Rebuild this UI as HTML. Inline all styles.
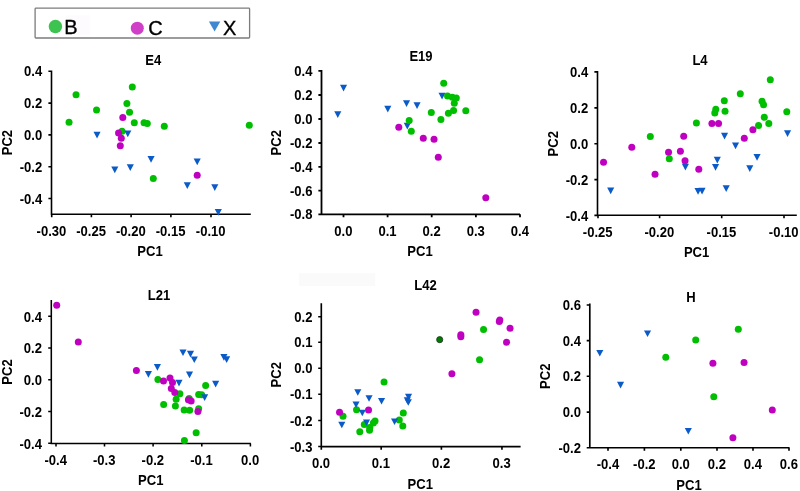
<!DOCTYPE html>
<html><head><meta charset="utf-8"><title>PCA scatter</title>
<style>
html,body{margin:0;padding:0;background:#fff}
svg{display:block}
text{font-family:"Liberation Sans",Arial,sans-serif;fill:#000}
.b{font-weight:bold;font-size:13.33px}
.lg{font-size:20px;stroke:#000;stroke-width:0.35px}
</style></head><body>
<svg width="800" height="491" viewBox="0 0 800 491">
<rect width="800" height="491" fill="#fff"/>
<rect x="299" y="273.3" width="76.2" height="12.6" fill="#fafafa"/>
<rect x="35.1" y="8.1" width="214.5" height="29.9" rx="0.8" fill="#fff" stroke="#7c7c7c" stroke-width="1.3"/>
<rect x="66" y="15.6" width="24" height="19" fill="#fdfbfd"/>
<circle cx="55.4" cy="26.5" r="6.7" fill="#3cc350"/>
<text class="lg" x="64.2" y="33.7">B</text>
<circle cx="137.3" cy="28.2" r="6.5" fill="#d03fc8"/>
<text class="lg" x="148.2" y="34.9">C</text>
<path d="M208.9 21.6h11.4l-5.7 10z" fill="#3f87d0"/>
<text class="lg" x="223" y="34.9">X</text>

<g id="E4">
<path d="M51.5 70.5V214.3H250.8M51.5 71.3h-3.1M51.5 103.1h-3.1M51.5 134.9h-3.1M51.5 166.7h-3.1M51.5 198.5h-3.1M51.7 214.3v3.0M91.4 214.3v3.0M131.1 214.3v3.0M170.9 214.3v3.0M211.0 214.3v3.0" fill="none" stroke="#000" stroke-width="1.6"/>
<circle cx="69.05" cy="122.3" r="3.5" fill="#00be00"/>
<circle cx="96.55" cy="110.0" r="3.5" fill="#00be00"/>
<circle cx="126.9" cy="103.4" r="3.5" fill="#00be00"/>
<circle cx="129.55" cy="112.2" r="3.5" fill="#00be00"/>
<circle cx="134.3" cy="122.8" r="3.5" fill="#00be00"/>
<circle cx="144.05" cy="122.8" r="3.5" fill="#00be00"/>
<circle cx="147.3" cy="123.55" r="3.5" fill="#00be00"/>
<circle cx="164.3" cy="126.3" r="3.5" fill="#00be00"/>
<circle cx="122.05" cy="131.3" r="3.5" fill="#00be00"/>
<circle cx="153.3" cy="178.55" r="3.5" fill="#00be00"/>
<circle cx="76.05" cy="94.8" r="3.5" fill="#00be00"/>
<circle cx="132.3" cy="87.05" r="3.5" fill="#00be00"/>
<circle cx="249.3" cy="125.3" r="3.5" fill="#00be00"/>
<path d="M93.50 131.80h7.1l-3.55 6.7z" fill="#0a5ac8"/>
<path d="M124.25 130.55h7.1l-3.55 6.7z" fill="#0a5ac8"/>
<path d="M147.50 156.05h7.1l-3.55 6.7z" fill="#0a5ac8"/>
<path d="M111.25 166.55h7.1l-3.55 6.7z" fill="#0a5ac8"/>
<path d="M126.75 164.30h7.1l-3.55 6.7z" fill="#0a5ac8"/>
<path d="M183.75 182.30h7.1l-3.55 6.7z" fill="#0a5ac8"/>
<path d="M193.65 158.55h7.1l-3.55 6.7z" fill="#0a5ac8"/>
<path d="M211.25 184.30h7.1l-3.55 6.7z" fill="#0a5ac8"/>
<path d="M214.75 209.05h7.1l-3.55 6.7z" fill="#0a5ac8"/>
<circle cx="122.8" cy="117.55" r="3.5" fill="#c000c0"/>
<circle cx="118.55" cy="133.05" r="3.5" fill="#c000c0"/>
<circle cx="121.3" cy="138.3" r="3.5" fill="#c000c0"/>
<circle cx="120.3" cy="145.8" r="3.5" fill="#c000c0"/>
<circle cx="197.2" cy="175.2" r="3.5" fill="#c000c0"/>
<text class="b" text-anchor="end" transform="translate(42.20 76.40) scale(0.98 1.07)">0.4</text>
<text class="b" text-anchor="end" transform="translate(42.20 108.20) scale(0.98 1.07)">0.2</text>
<text class="b" text-anchor="end" transform="translate(42.20 140.00) scale(0.98 1.07)">0.0</text>
<text class="b" text-anchor="end" transform="translate(42.20 171.80) scale(0.98 1.07)">-0.2</text>
<text class="b" text-anchor="end" transform="translate(42.20 203.60) scale(0.98 1.07)">-0.4</text>
<text class="b" text-anchor="middle" transform="translate(51.40 235.60) scale(0.98 1.07)">-0.30</text>
<text class="b" text-anchor="middle" transform="translate(91.10 235.60) scale(0.98 1.07)">-0.25</text>
<text class="b" text-anchor="middle" transform="translate(130.80 235.60) scale(0.98 1.07)">-0.20</text>
<text class="b" text-anchor="middle" transform="translate(170.60 235.60) scale(0.98 1.07)">-0.15</text>
<text class="b" text-anchor="middle" transform="translate(210.70 235.60) scale(0.98 1.07)">-0.10</text>
<text class="b" text-anchor="middle" transform="translate(153.20 64.70) scale(0.98 1.07)">E4</text>
<text class="b" text-anchor="middle" transform="translate(11.65 142.60) rotate(-90) scale(0.98 1.07)">PC2</text>
<text class="b" text-anchor="middle" transform="translate(150.00 255.80) scale(0.98 1.07)">PC1</text>
</g>
<g id="E19">
<path d="M321.5 70.1V214.3H520.0M321.5 70.9h-3.1M321.5 95.0h-3.1M321.5 119.0h-3.1M321.5 143.0h-3.1M321.5 166.9h-3.1M321.5 190.7h-3.1M321.5 214.3h-3.1M343.5 214.3v3.0M387.6 214.3v3.0M431.7 214.3v3.0M475.9 214.3v3.0M520.0 214.3v3.0" fill="none" stroke="#000" stroke-width="1.8"/>
<path d="M438.50 92.80h7.1l-3.55 6.7z" fill="#0a5ac8"/>
<path d="M403.75 122.80h7.1l-3.55 6.7z" fill="#0a5ac8"/>
<circle cx="443.7" cy="83.2" r="3.5" fill="#00be00"/>
<circle cx="447.55" cy="96.05" r="3.5" fill="#00be00"/>
<circle cx="452.3" cy="97.3" r="3.5" fill="#00be00"/>
<circle cx="456.3" cy="98.0" r="3.5" fill="#00be00"/>
<circle cx="454.3" cy="103.3" r="3.5" fill="#00be00"/>
<circle cx="453.55" cy="110.55" r="3.5" fill="#00be00"/>
<circle cx="448.4" cy="113.3" r="3.5" fill="#00be00"/>
<circle cx="465.8" cy="110.8" r="3.5" fill="#00be00"/>
<circle cx="431.3" cy="112.55" r="3.5" fill="#00be00"/>
<circle cx="440.9" cy="119.55" r="3.5" fill="#00be00"/>
<circle cx="409.2" cy="120.55" r="3.5" fill="#00be00"/>
<circle cx="411.3" cy="131.3" r="3.5" fill="#00be00"/>
<path d="M340.00 84.80h7.1l-3.55 6.7z" fill="#0a5ac8"/>
<path d="M334.25 111.30h7.1l-3.55 6.7z" fill="#0a5ac8"/>
<path d="M384.25 105.80h7.1l-3.55 6.7z" fill="#0a5ac8"/>
<path d="M403.00 100.30h7.1l-3.55 6.7z" fill="#0a5ac8"/>
<path d="M413.50 102.30h7.1l-3.55 6.7z" fill="#0a5ac8"/>
<circle cx="398.8" cy="127.3" r="3.5" fill="#c000c0"/>
<circle cx="423.3" cy="138.3" r="3.5" fill="#c000c0"/>
<circle cx="434.05" cy="139.3" r="3.5" fill="#c000c0"/>
<circle cx="438.3" cy="157.3" r="3.5" fill="#c000c0"/>
<circle cx="485.8" cy="197.8" r="3.5" fill="#c000c0"/>
<text class="b" text-anchor="end" transform="translate(312.50 76.00) scale(0.98 1.07)">0.4</text>
<text class="b" text-anchor="end" transform="translate(312.50 100.10) scale(0.98 1.07)">0.2</text>
<text class="b" text-anchor="end" transform="translate(312.50 124.10) scale(0.98 1.07)">0.0</text>
<text class="b" text-anchor="end" transform="translate(312.50 148.10) scale(0.98 1.07)">-0.2</text>
<text class="b" text-anchor="end" transform="translate(312.50 172.00) scale(0.98 1.07)">-0.4</text>
<text class="b" text-anchor="end" transform="translate(312.50 195.80) scale(0.98 1.07)">-0.6</text>
<text class="b" text-anchor="end" transform="translate(312.50 219.40) scale(0.98 1.07)">-0.8</text>
<text class="b" text-anchor="middle" transform="translate(343.40 235.60) scale(0.98 1.07)">0.0</text>
<text class="b" text-anchor="middle" transform="translate(387.50 235.60) scale(0.98 1.07)">0.1</text>
<text class="b" text-anchor="middle" transform="translate(431.60 235.60) scale(0.98 1.07)">0.2</text>
<text class="b" text-anchor="middle" transform="translate(475.80 235.60) scale(0.98 1.07)">0.3</text>
<text class="b" text-anchor="middle" transform="translate(519.90 235.60) scale(0.98 1.07)">0.4</text>
<text class="b" text-anchor="middle" transform="translate(421.00 61.20) scale(0.98 1.07)">E19</text>
<text class="b" text-anchor="middle" transform="translate(280.95 142.80) rotate(-90) scale(0.98 1.07)">PC2</text>
<text class="b" text-anchor="middle" transform="translate(420.00 255.80) scale(0.98 1.07)">PC1</text>
</g>
<g id="L4">
<path d="M597.5 71.10000000000001V215.20000000000002H796.8M597.5 71.9h-3.1M597.5 107.9h-3.1M597.5 143.8h-3.1M597.5 179.6h-3.1M597.5 215.4h-3.1M598 215.20000000000002v3.0M659.6 215.20000000000002v3.0M721.7 215.20000000000002v3.0M784.0 215.20000000000002v3.0" fill="none" stroke="#000" stroke-width="1.6"/>
<circle cx="770.3" cy="79.75" r="3.5" fill="#00be00"/>
<circle cx="740.3" cy="93.75" r="3.5" fill="#00be00"/>
<circle cx="724.3" cy="100.65" r="3.5" fill="#00be00"/>
<circle cx="715.8" cy="109.25" r="3.5" fill="#00be00"/>
<circle cx="714.8" cy="113.0" r="3.5" fill="#00be00"/>
<circle cx="725.05" cy="111.25" r="3.5" fill="#00be00"/>
<circle cx="762.05" cy="101.25" r="3.5" fill="#00be00"/>
<circle cx="763.55" cy="104.75" r="3.5" fill="#00be00"/>
<circle cx="786.8" cy="111.75" r="3.5" fill="#00be00"/>
<circle cx="764.3" cy="117.25" r="3.5" fill="#00be00"/>
<circle cx="768.8" cy="123.5" r="3.5" fill="#00be00"/>
<circle cx="758.55" cy="125.5" r="3.5" fill="#00be00"/>
<circle cx="696.4" cy="123.0" r="3.5" fill="#00be00"/>
<circle cx="650.3" cy="136.5" r="3.5" fill="#00be00"/>
<circle cx="669.3" cy="158.75" r="3.5" fill="#00be00"/>
<path d="M721.00 132.75h7.1l-3.55 6.7z" fill="#0a5ac8"/>
<path d="M732.00 142.55h7.1l-3.55 6.7z" fill="#0a5ac8"/>
<path d="M784.00 130.25h7.1l-3.55 6.7z" fill="#0a5ac8"/>
<path d="M607.15 187.50h7.1l-3.55 6.7z" fill="#0a5ac8"/>
<path d="M681.85 163.75h7.1l-3.55 6.7z" fill="#0a5ac8"/>
<path d="M694.50 188.00h7.1l-3.55 6.7z" fill="#0a5ac8"/>
<path d="M698.50 187.75h7.1l-3.55 6.7z" fill="#0a5ac8"/>
<path d="M712.00 164.00h7.1l-3.55 6.7z" fill="#0a5ac8"/>
<path d="M713.75 156.75h7.1l-3.55 6.7z" fill="#0a5ac8"/>
<path d="M722.65 185.25h7.1l-3.55 6.7z" fill="#0a5ac8"/>
<path d="M746.25 165.25h7.1l-3.55 6.7z" fill="#0a5ac8"/>
<path d="M753.50 154.00h7.1l-3.55 6.7z" fill="#0a5ac8"/>
<circle cx="711.9" cy="123.5" r="3.5" fill="#c000c0"/>
<circle cx="718.55" cy="123.5" r="3.5" fill="#c000c0"/>
<circle cx="752.9" cy="129.65" r="3.5" fill="#c000c0"/>
<circle cx="744.3" cy="138.35" r="3.5" fill="#c000c0"/>
<circle cx="683.7" cy="136.25" r="3.5" fill="#c000c0"/>
<circle cx="631.8" cy="147.25" r="3.5" fill="#c000c0"/>
<circle cx="668.55" cy="152.25" r="3.5" fill="#c000c0"/>
<circle cx="680.4" cy="151.35" r="3.5" fill="#c000c0"/>
<circle cx="603.55" cy="162.25" r="3.5" fill="#c000c0"/>
<circle cx="655.05" cy="174.25" r="3.5" fill="#c000c0"/>
<circle cx="685.05" cy="160.75" r="3.5" fill="#c000c0"/>
<circle cx="698.8" cy="169.25" r="3.5" fill="#c000c0"/>
<text class="b" text-anchor="end" transform="translate(588.20 77.00) scale(0.98 1.07)">0.4</text>
<text class="b" text-anchor="end" transform="translate(588.20 113.00) scale(0.98 1.07)">0.2</text>
<text class="b" text-anchor="end" transform="translate(588.20 148.90) scale(0.98 1.07)">0.0</text>
<text class="b" text-anchor="end" transform="translate(588.20 184.70) scale(0.98 1.07)">-0.2</text>
<text class="b" text-anchor="end" transform="translate(588.20 220.50) scale(0.98 1.07)">-0.4</text>
<text class="b" text-anchor="middle" transform="translate(597.70 236.50) scale(0.98 1.07)">-0.25</text>
<text class="b" text-anchor="middle" transform="translate(659.30 236.50) scale(0.98 1.07)">-0.20</text>
<text class="b" text-anchor="middle" transform="translate(721.40 236.50) scale(0.98 1.07)">-0.15</text>
<text class="b" text-anchor="middle" transform="translate(783.70 236.50) scale(0.98 1.07)">-0.10</text>
<text class="b" text-anchor="middle" transform="translate(700.00 64.80) scale(0.98 1.07)">L4</text>
<text class="b" text-anchor="middle" transform="translate(557.85 143.80) rotate(-90) scale(0.98 1.07)">PC2</text>
<text class="b" text-anchor="middle" transform="translate(696.60 256.70) scale(0.98 1.07)">PC1</text>
</g>
<g id="L21">
<path d="M51.3 299.9V443.5H250.9M51.3 316.15h-3.1M51.3 347.9h-3.1M51.3 379.7h-3.1M51.3 411.5h-3.1M51.3 443.25h-3.1M56 443.5v3.0M104.5 443.5v3.0M153.1 443.5v3.0M201.8 443.5v3.0M250.4 443.5v3.0" fill="none" stroke="#000" stroke-width="1.55"/>
<circle cx="157.9" cy="379.5" r="3.5" fill="#00be00"/>
<circle cx="205.65" cy="385.5" r="3.5" fill="#00be00"/>
<circle cx="179.9" cy="393.75" r="3.5" fill="#00be00"/>
<circle cx="198.65" cy="394.5" r="3.5" fill="#00be00"/>
<circle cx="201.65" cy="394.75" r="3.5" fill="#00be00"/>
<circle cx="176.15" cy="399.25" r="3.5" fill="#00be00"/>
<circle cx="189.15" cy="398.5" r="3.5" fill="#00be00"/>
<circle cx="163.65" cy="404.5" r="3.5" fill="#00be00"/>
<circle cx="175.4" cy="406.0" r="3.5" fill="#00be00"/>
<circle cx="184.15" cy="410.0" r="3.5" fill="#00be00"/>
<circle cx="189.65" cy="410.25" r="3.5" fill="#00be00"/>
<circle cx="198.65" cy="408.75" r="3.5" fill="#00be00"/>
<circle cx="196.15" cy="432.75" r="3.5" fill="#00be00"/>
<circle cx="184.4" cy="440.5" r="3.5" fill="#00be00"/>
<path d="M179.45 349.40h7.1l-3.55 6.7z" fill="#0a5ac8"/>
<path d="M186.95 350.75h7.1l-3.55 6.7z" fill="#0a5ac8"/>
<path d="M190.75 356.40h7.1l-3.55 6.7z" fill="#0a5ac8"/>
<path d="M220.35 354.00h7.1l-3.55 6.7z" fill="#0a5ac8"/>
<path d="M223.10 356.25h7.1l-3.55 6.7z" fill="#0a5ac8"/>
<path d="M153.85 364.00h7.1l-3.55 6.7z" fill="#0a5ac8"/>
<path d="M144.85 371.00h7.1l-3.55 6.7z" fill="#0a5ac8"/>
<path d="M185.95 371.50h7.1l-3.55 6.7z" fill="#0a5ac8"/>
<path d="M175.45 379.75h7.1l-3.55 6.7z" fill="#0a5ac8"/>
<path d="M212.10 380.75h7.1l-3.55 6.7z" fill="#0a5ac8"/>
<path d="M201.10 394.25h7.1l-3.55 6.7z" fill="#0a5ac8"/>
<circle cx="56.7" cy="305.25" r="3.5" fill="#c000c0"/>
<circle cx="78.3" cy="342.1" r="3.5" fill="#c000c0"/>
<circle cx="136.4" cy="370.5" r="3.5" fill="#c000c0"/>
<circle cx="163.5" cy="381.0" r="3.5" fill="#c000c0"/>
<circle cx="170.0" cy="378.0" r="3.5" fill="#c000c0"/>
<circle cx="172.5" cy="382.5" r="3.5" fill="#c000c0"/>
<circle cx="171.3" cy="388.5" r="3.5" fill="#c000c0"/>
<circle cx="174.8" cy="392.5" r="3.5" fill="#c000c0"/>
<circle cx="188.4" cy="399.75" r="3.5" fill="#c000c0"/>
<circle cx="191.15" cy="401.0" r="3.5" fill="#c000c0"/>
<circle cx="197.9" cy="411.5" r="3.5" fill="#c000c0"/>
<text class="b" text-anchor="end" transform="translate(42.00 321.55) scale(0.98 1.07)">0.4</text>
<text class="b" text-anchor="end" transform="translate(42.00 353.30) scale(0.98 1.07)">0.2</text>
<text class="b" text-anchor="end" transform="translate(42.00 385.10) scale(0.98 1.07)">0.0</text>
<text class="b" text-anchor="end" transform="translate(42.00 416.90) scale(0.98 1.07)">-0.2</text>
<text class="b" text-anchor="end" transform="translate(42.00 448.65) scale(0.98 1.07)">-0.4</text>
<text class="b" text-anchor="middle" transform="translate(55.70 465.10) scale(0.98 1.07)">-0.4</text>
<text class="b" text-anchor="middle" transform="translate(104.20 465.10) scale(0.98 1.07)">-0.3</text>
<text class="b" text-anchor="middle" transform="translate(152.80 465.10) scale(0.98 1.07)">-0.2</text>
<text class="b" text-anchor="middle" transform="translate(201.50 465.10) scale(0.98 1.07)">-0.1</text>
<text class="b" text-anchor="middle" transform="translate(250.10 465.10) scale(0.98 1.07)">0.0</text>
<text class="b" text-anchor="middle" transform="translate(159.10 299.60) scale(0.98 1.07)">L21</text>
<text class="b" text-anchor="middle" transform="translate(11.75 372.00) rotate(-90) scale(0.98 1.07)">PC2</text>
<text class="b" text-anchor="middle" transform="translate(150.70 485.10) scale(0.98 1.07)">PC1</text>
</g>
<g id="L42">
<path d="M321.3 303.25V446.65H520.6M321.3 316.75h-3.1M321.3 342.25h-3.1M321.3 368.25h-3.1M321.3 394.25h-3.1M321.3 420.5h-3.1M321.3 446.5h-3.1M321.3 446.65v3.0M381.2 446.65v3.0M441.4 446.65v3.0M501.95 446.65v3.0" fill="none" stroke="#000" stroke-width="1.65"/>
<circle cx="483.55" cy="329.4" r="3.5" fill="#00be00"/>
<circle cx="479.55" cy="359.65" r="3.5" fill="#00be00"/>
<circle cx="384.05" cy="382.05" r="3.5" fill="#00be00"/>
<circle cx="343.05" cy="416.15" r="3.5" fill="#00be00"/>
<circle cx="356.55" cy="409.65" r="3.5" fill="#00be00"/>
<circle cx="359.8" cy="431.65" r="3.5" fill="#00be00"/>
<circle cx="364.3" cy="424.4" r="3.5" fill="#00be00"/>
<circle cx="369.8" cy="427.4" r="3.5" fill="#00be00"/>
<circle cx="369.55" cy="430.15" r="3.5" fill="#00be00"/>
<circle cx="373.3" cy="422.9" r="3.5" fill="#00be00"/>
<circle cx="375.05" cy="420.9" r="3.5" fill="#00be00"/>
<circle cx="403.3" cy="412.9" r="3.5" fill="#00be00"/>
<circle cx="399.3" cy="419.9" r="3.5" fill="#00be00"/>
<circle cx="402.8" cy="425.9" r="3.5" fill="#00be00"/>
<circle cx="439.7" cy="339.65" r="3.05" fill="#007d00" stroke="#1c3c1c" stroke-width="0.9"/>
<path d="M354.25 389.15h7.1l-3.55 6.7z" fill="#0a5ac8"/>
<path d="M365.50 395.15h7.1l-3.55 6.7z" fill="#0a5ac8"/>
<path d="M352.50 401.40h7.1l-3.55 6.7z" fill="#0a5ac8"/>
<path d="M378.00 397.90h7.1l-3.55 6.7z" fill="#0a5ac8"/>
<path d="M358.75 409.65h7.1l-3.55 6.7z" fill="#0a5ac8"/>
<path d="M363.00 419.40h7.1l-3.55 6.7z" fill="#0a5ac8"/>
<path d="M338.25 421.65h7.1l-3.55 6.7z" fill="#0a5ac8"/>
<path d="M391.00 418.40h7.1l-3.55 6.7z" fill="#0a5ac8"/>
<path d="M405.00 393.65h7.1l-3.55 6.7z" fill="#0a5ac8"/>
<path d="M403.75 397.15h7.1l-3.55 6.7z" fill="#0a5ac8"/>
<path d="M404.75 399.15h7.1l-3.55 6.7z" fill="#0a5ac8"/>
<circle cx="476.05" cy="312.15" r="3.5" fill="#c000c0"/>
<circle cx="499.8" cy="319.9" r="3.5" fill="#c000c0"/>
<circle cx="499.3" cy="321.4" r="3.5" fill="#c000c0"/>
<circle cx="510.05" cy="328.15" r="3.5" fill="#c000c0"/>
<circle cx="460.85" cy="334.85" r="3.5" fill="#c000c0"/>
<circle cx="460.85" cy="336.75" r="3.5" fill="#c000c0"/>
<circle cx="506.55" cy="342.15" r="3.5" fill="#c000c0"/>
<circle cx="451.9" cy="373.75" r="3.5" fill="#c000c0"/>
<circle cx="339.55" cy="412.15" r="3.5" fill="#c000c0"/>
<circle cx="368.55" cy="409.9" r="3.5" fill="#c000c0"/>
<text class="b" text-anchor="end" transform="translate(312.50 321.85) scale(0.98 1.07)">0.2</text>
<text class="b" text-anchor="end" transform="translate(312.50 347.35) scale(0.98 1.07)">0.1</text>
<text class="b" text-anchor="end" transform="translate(312.50 373.35) scale(0.98 1.07)">0.0</text>
<text class="b" text-anchor="end" transform="translate(312.50 399.35) scale(0.98 1.07)">-0.1</text>
<text class="b" text-anchor="end" transform="translate(312.50 425.60) scale(0.98 1.07)">-0.2</text>
<text class="b" text-anchor="end" transform="translate(312.50 451.60) scale(0.98 1.07)">-0.3</text>
<text class="b" text-anchor="middle" transform="translate(321.00 468.30) scale(0.98 1.07)">0.0</text>
<text class="b" text-anchor="middle" transform="translate(380.90 468.30) scale(0.98 1.07)">0.1</text>
<text class="b" text-anchor="middle" transform="translate(441.10 468.30) scale(0.98 1.07)">0.2</text>
<text class="b" text-anchor="middle" transform="translate(501.65 468.30) scale(0.98 1.07)">0.3</text>
<text class="b" text-anchor="middle" transform="translate(425.40 290.10) scale(0.98 1.07)">L42</text>
<text class="b" text-anchor="middle" transform="translate(280.85 374.80) rotate(-90) scale(0.98 1.07)">PC2</text>
<text class="b" text-anchor="middle" transform="translate(420.30 489.00) scale(0.98 1.07)">PC1</text>
</g>
<g id="H">
<path d="M589.8 303.55V447.75H789.5M589.8 304.95h-3.1M589.8 340.55h-3.1M589.8 376.25h-3.1M589.8 412.1h-3.1M589.8 447.75h-3.1M608 447.75v3.0M644.4 447.75v3.0M680.8 447.75v3.0M717.0 447.75v3.0M753.0 447.75v3.0M789.0 447.75v3.0" fill="none" stroke="#000" stroke-width="1.65"/>
<circle cx="665.8" cy="357.15" r="3.5" fill="#00be00"/>
<circle cx="695.7" cy="340.0" r="3.5" fill="#00be00"/>
<circle cx="738.3" cy="329.15" r="3.5" fill="#00be00"/>
<circle cx="713.8" cy="396.65" r="3.5" fill="#00be00"/>
<path d="M644.00 330.40h7.1l-3.55 6.7z" fill="#0a5ac8"/>
<path d="M596.25 349.90h7.1l-3.55 6.7z" fill="#0a5ac8"/>
<path d="M617.00 381.70h7.1l-3.55 6.7z" fill="#0a5ac8"/>
<path d="M684.75 427.90h7.1l-3.55 6.7z" fill="#0a5ac8"/>
<circle cx="712.9" cy="363.15" r="3.5" fill="#c000c0"/>
<circle cx="744.05" cy="362.4" r="3.5" fill="#c000c0"/>
<circle cx="772.3" cy="409.9" r="3.5" fill="#c000c0"/>
<circle cx="732.9" cy="437.65" r="3.5" fill="#c000c0"/>
<text class="b" text-anchor="end" transform="translate(580.90 310.05) scale(0.98 1.07)">0.6</text>
<text class="b" text-anchor="end" transform="translate(580.90 345.65) scale(0.98 1.07)">0.4</text>
<text class="b" text-anchor="end" transform="translate(580.90 381.35) scale(0.98 1.07)">0.2</text>
<text class="b" text-anchor="end" transform="translate(580.90 417.20) scale(0.98 1.07)">0.0</text>
<text class="b" text-anchor="end" transform="translate(580.90 452.85) scale(0.98 1.07)">-0.2</text>
<text class="b" text-anchor="middle" transform="translate(607.90 469.00) scale(0.98 1.07)">-0.4</text>
<text class="b" text-anchor="middle" transform="translate(644.30 469.00) scale(0.98 1.07)">-0.2</text>
<text class="b" text-anchor="middle" transform="translate(680.70 469.00) scale(0.98 1.07)">0.0</text>
<text class="b" text-anchor="middle" transform="translate(716.90 469.00) scale(0.98 1.07)">0.2</text>
<text class="b" text-anchor="middle" transform="translate(752.90 469.00) scale(0.98 1.07)">0.4</text>
<text class="b" text-anchor="middle" transform="translate(788.90 469.00) scale(0.98 1.07)">0.6</text>
<text class="b" text-anchor="middle" transform="translate(690.90 302.15) scale(0.98 1.07)">H</text>
<text class="b" text-anchor="middle" transform="translate(550.20 376.30) rotate(-90) scale(0.98 1.07)">PC2</text>
<text class="b" text-anchor="middle" transform="translate(689.00 489.50) scale(0.98 1.07)">PC1</text>
</g>
</svg></body></html>
